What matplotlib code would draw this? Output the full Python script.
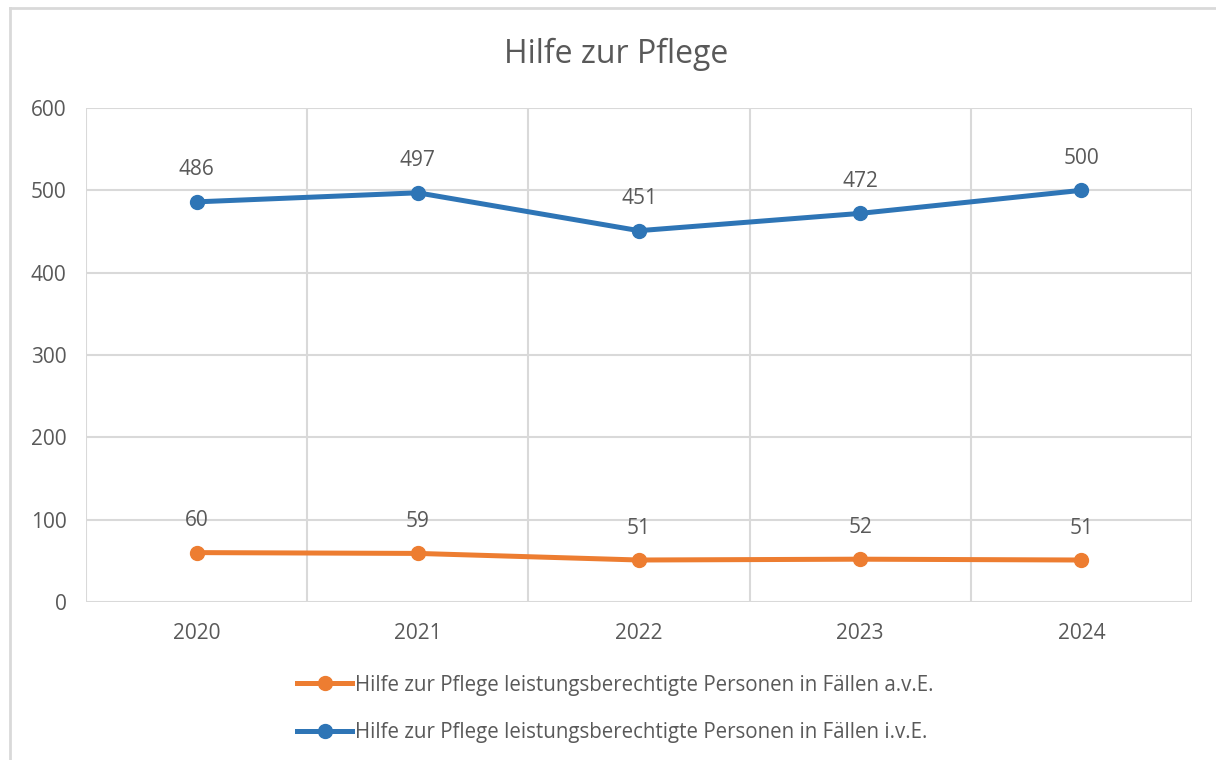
import matplotlib
matplotlib.use("Agg")
import matplotlib.pyplot as plt
from matplotlib.lines import Line2D

years = ["2020", "2021", "2022", "2023", "2024"]
ave_values = [60, 59, 51, 52, 51]
ive_values = [486, 497, 451, 472, 500]
series_names = [
    "Hilfe zur Pflege leistungsberechtigte Personen in Fällen a.v.E.",
    "Hilfe zur Pflege leistungsberechtigte Personen in Fällen i.v.E.",
]
title = "Hilfe zur Pflege"
yticks = [0, 100, 200, 300, 400, 500, 600]

plt.rcParams['font.family'] = ['Open Sans', 'DejaVu Sans']
text_color = "#595959"
grid_color = "#D9D9D9"
orange = "#ED7D31"
blue = "#2E75B6"

W, H = 1216, 760
fig = plt.figure(figsize=(W / 100, H / 100), dpi=100)
ax = fig.add_axes([86 / W, 1 - 602 / H, (1192 - 86) / W, (602 - 108) / H])

x = list(range(len(years)))
ax.plot(x, ave_values, color=orange, lw=3.6, marker="o", ms=10, solid_capstyle="round", zorder=3)
ax.plot(x, ive_values, color=blue, lw=3.6, marker="o", ms=10, solid_capstyle="round", zorder=3)

for xi, v in zip(x, ave_values):
    ax.annotate(str(v), (xi, v), xytext=(0, 23), textcoords="offset points",
                ha="center", va="center", fontsize=15, color=text_color)
for xi, v in zip(x, ive_values):
    ax.annotate(str(v), (xi, v), xytext=(0, 23), textcoords="offset points",
                ha="center", va="center", fontsize=15, color=text_color)

ax.set_xlim(-0.5, len(years) - 0.5)
ax.set_ylim(0, 600)
ax.set_yticks(yticks)
ax.set_xticks(x)
ax.set_xticklabels(years)
ax.set_xticks([i - 0.5 for i in range(len(years) + 1)], minor=True)
ax.grid(True, axis="y", which="major", color=grid_color, lw=1.5)
ax.grid(True, axis="x", which="minor", color=grid_color, lw=1.5)
ax.grid(False, axis="x", which="major")
ax.set_axisbelow(True)
for s in ax.spines.values():
    s.set_visible(False)
ax.tick_params(axis="both", which="both", length=0, labelsize=15, colors=text_color)
ax.tick_params(axis="y", pad=14)
ax.tick_params(axis="x", pad=15)

fig.text(616 / W, 1 - 54 / H, title, ha="center", va="center", fontsize=23, color=text_color)

handles = [Line2D([0], [0], color=orange, lw=3.6, marker="o", ms=10),
           Line2D([0], [0], color=blue, lw=3.6, marker="o", ms=10)]
fig.legend(handles, series_names, loc="center", bbox_to_anchor=(615 / W, 1 - 709 / H),
           ncol=1, frameon=False, fontsize=14.8, labelcolor=text_color,
           handlelength=2.7, handletextpad=0.1, labelspacing=1.3)

# outer chart border (top and left visible)
fig.add_artist(Line2D([10 / W, 1], [1 - 8 / H, 1 - 8 / H], color=grid_color, lw=2, transform=fig.transFigure))
fig.add_artist(Line2D([10 / W, 10 / W], [0, 1 - 8 / H], color=grid_color, lw=2, transform=fig.transFigure))

fig.savefig("out.png", dpi=100, facecolor="white")
